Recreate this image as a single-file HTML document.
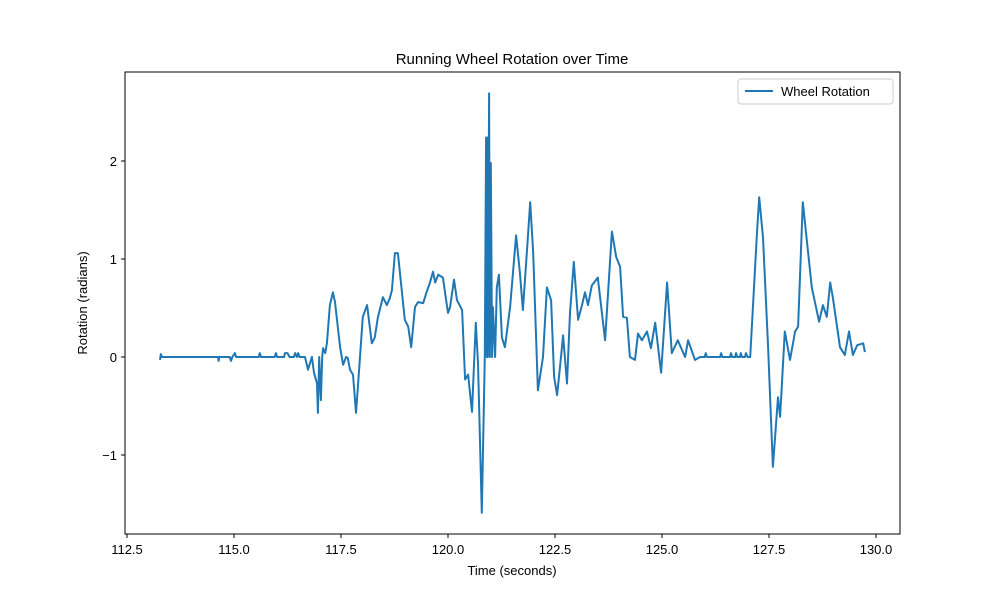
<!DOCTYPE html>
<html><head><meta charset="utf-8"><style>
body{margin:0;background:#fff;font-family:"Liberation Sans","DejaVu Sans",sans-serif;}
text{font-family:"Liberation Sans","DejaVu Sans",sans-serif;}
</style></head><body>
<svg id="chart" width="1000" height="600" viewBox="0 0 1000 600" xmlns="http://www.w3.org/2000/svg">
<rect width="1000" height="600" fill="#fff"/>
<text x="512" y="64" font-size="15" text-anchor="middle">Running Wheel Rotation over Time</text>
<g id="plot"></g>
<rect x="125" y="72" width="775" height="462" fill="none" stroke="#000" stroke-width="1"/>
<text x="512" y="575" font-size="13" text-anchor="middle">Time (seconds)</text>
<text transform="translate(87,303) rotate(-90)" font-size="13" text-anchor="middle">Rotation (radians)</text>
<g>
<rect x="738" y="79" width="155" height="25" rx="3" fill="#fff" stroke="#ccc"/>
<line x1="745" y1="91" x2="773" y2="91" stroke="#1f77b4" stroke-width="2"/>
<text x="781" y="96" font-size="13">Wheel Rotation</text>
</g>
</svg>
<script>
const xTicks=[112.5,115.0,117.5,120.0,122.5,125.0,127.5,130.0];
const yTicks=[-1,0,1,2];
const yTickLabels=["\u22121","0","1","2"];
const times=[113.27,113.29,113.32,114.63,114.64,114.66,114.9,114.93,114.96,115.02,115.05,115.58,115.6,115.63,115.95,115.98,116.01,116.17,116.19,116.25,116.3,116.4,116.43,116.47,116.5,116.53,
116.66,116.73,116.82,116.87,116.94,116.96,116.99,117.03,117.06,117.08,117.13,117.17,117.24,117.31,117.36,117.48,117.55,117.62,117.66,117.71,117.78,117.85,117.94,118.01,118.11,118.22,118.29,118.36,118.48,118.57,118.64,118.69,118.76,118.83,118.99,119.07,119.14,119.23,119.30,119.42,119.49,119.58,119.65,119.70,119.77,119.88,120.0,120.05,120.14,120.21,120.33,120.40,120.47,120.56,120.65,120.70,120.79,120.86,120.89,120.91,120.92,120.93,120.96,120.98,121.0,121.03,121.05,121.10,121.14,121.19,121.26,121.33,121.45,121.59,121.68,121.75,121.85,121.92,121.99,122.10,122.22,122.31,122.41,122.48,122.55,122.64,122.69,122.78,122.85,122.94,123.04,123.13,123.20,123.27,123.36,123.50,123.67,123.83,123.93,124.02,124.09,124.18,124.25,124.37,124.44,124.53,124.65,124.74,124.84,124.98,125.12,125.23,125.37,125.54,125.61,125.77,125.89,
126.0,126.02,126.05,126.36,126.38,126.41,126.59,126.61,126.64,126.71,126.73,126.76,126.82,126.84,126.87,126.94,126.96,127.0,127.06,127.22,127.27,127.36,127.48,127.59,127.71,127.76,127.87,127.99,128.11,128.18,128.29,128.50,128.67,128.76,128.85,128.93,128.99,129.16,129.27,129.37,129.46,129.56,129.70,129.74];
const rotation=[-0.03,0.03,0,0,-0.04,0,0,-0.04,0,0.04,0,0,0.04,0,0,0.04,0,0,0.04,0.04,0,0,0.04,0,0.04,0,
0,-0.13,0,-0.16,-0.27,-0.57,0,-0.44,0,0.09,0.04,0.14,0.53,0.66,0.56,0.10,-0.08,0,-0.01,-0.13,-0.18,-0.57,-0.03,0.41,0.53,0.14,0.20,0.40,0.61,0.53,0.60,0.68,1.06,1.06,0.38,0.31,0.10,0.51,0.56,0.55,0.65,0.76,0.87,0.76,0.84,0.81,0.45,0.51,0.79,0.58,0.48,-0.23,-0.18,-0.56,0.35,-0.06,-1.59,0,2.24,0,2.24,0,2.69,0,1.98,0,0.51,0,0.71,0.84,0.20,0.10,0.51,1.24,0.86,0.48,1.12,1.58,1.06,-0.34,0,0.71,0.58,-0.20,-0.39,0,0.22,-0.27,0.45,0.97,0.38,0.53,0.66,0.53,0.73,0.81,0.17,1.28,1.02,0.92,0.41,0.40,0,-0.03,0.24,0.17,0.26,0.09,0.35,-0.16,0.76,0.04,0.17,0,0.17,-0.03,0,
0,0.04,0,0,0.04,0,0,0.04,0,0,0.04,0,0,0.04,0,0,0.04,0,0,1.27,1.63,1.22,0.10,-1.12,-0.41,-0.61,0.26,-0.03,0.26,0.31,1.58,0.71,0.36,0.53,0.41,0.76,0.61,0.10,0.02,0.26,0.02,0.12,0.14,0.05];
const NS="http://www.w3.org/2000/svg";
function xs(t){return 127+(t-112.5)*42.8;}
function ys(v){return 357-v*98;}
const svg=document.getElementById('chart');
const plot=document.getElementById('plot');
xTicks.forEach(function(t){
  const l=document.createElementNS(NS,'line');
  l.setAttribute('x1',xs(t));l.setAttribute('x2',xs(t));l.setAttribute('y1',534);l.setAttribute('y2',538);l.setAttribute('stroke','#000');
  
  
  svg.appendChild(l);
  const tx=document.createElementNS(NS,'text');
  tx.setAttribute('x',xs(t));tx.setAttribute('y',554);tx.setAttribute('font-size','13');tx.setAttribute('text-anchor','middle');
  tx.textContent=t.toFixed(1);
  
  
  svg.appendChild(tx);
});
yTicks.forEach(function(v,i){
  const l=document.createElementNS(NS,'line');
  l.setAttribute('x1',121);l.setAttribute('x2',125);l.setAttribute('y1',ys(v));l.setAttribute('y2',ys(v));l.setAttribute('stroke','#000');
  
  
  svg.appendChild(l);
  const tx=document.createElementNS(NS,'text');
  tx.setAttribute('x',117);tx.setAttribute('y',ys(v)+5);tx.setAttribute('font-size','13');tx.setAttribute('text-anchor','end');
  tx.textContent=yTickLabels[i];
  
  
  svg.appendChild(tx);
});
const pts=times.map(function(t,i){return xs(t).toFixed(1)+','+ys(rotation[i]).toFixed(1);}).join(' ');
const pl=document.createElementNS(NS,'polyline');
pl.setAttribute('points',pts);pl.setAttribute('fill','none');pl.setAttribute('stroke','#1f77b4');pl.setAttribute('stroke-width','2');pl.setAttribute('stroke-linejoin','round');


plot.appendChild(pl);
</script>
</body></html>
